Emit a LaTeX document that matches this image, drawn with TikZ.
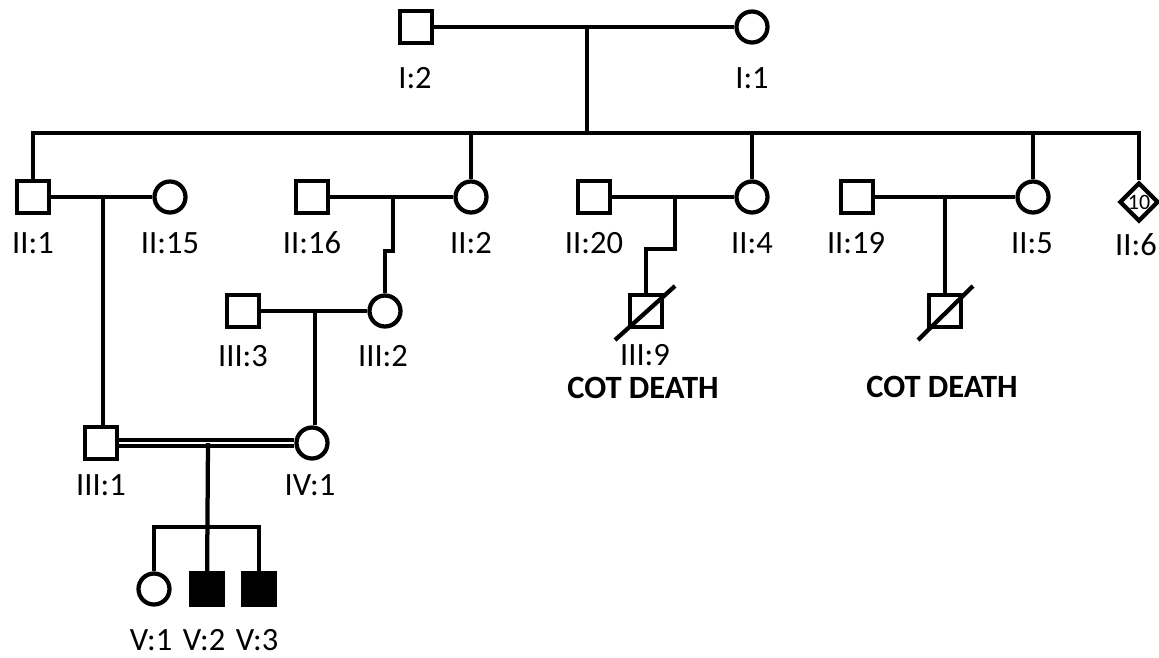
\documentclass[tikz,border=0pt]{standalone}
\usepackage{fontspec}
\setmainfont{Carlito}
\usetikzlibrary{shapes.geometric,calc}

\tikzset{
  male/.style={draw, rectangle, minimum size=0.64cm, inner sep=0pt},
  female/.style={draw, circle, minimum size=0.62cm, inner sep=0pt},
  sexunk/.style={draw, diamond, minimum size=0.78cm, inner sep=0pt},
  count/.style={font=\fontsize{12.5}{12.5}\selectfont, inner sep=0pt},
  affected/.style={fill=black},
  lab/.style={font=\fontsize{18.5}{21}\selectfont, inner sep=0pt},
  note/.style={font=\fontsize{18.5}{21}\selectfont\bfseries, inner sep=0pt},
  consang/.style={double, line width=0.07cm, double distance=0.05cm},
}

\begin{document}
\begin{tikzpicture}[x=0.02cm, y=-0.02cm, line width=0.085cm]
  \useasboundingbox (0,0) rectangle (1159,657);

  % generation I
  \node[male] (I2) at (416,27) {};
  \node[female] (I1) at (752,27) {};
  \node[lab] (lI2) at (415,78) {I:2};
  \node[lab] (lI1) at (752,78) {I:1};

  % generation II
  \node[male] (II1) at (33,197) {};
  \node[female] (II15) at (170,197) {};
  \node[male] (II16) at (312,197) {};
  \node[female] (II2) at (471,197) {};
  \node[male] (II20) at (594,197) {};
  \node[female] (II4) at (752,197) {};
  \node[male] (II19) at (857,197) {};
  \node[female] (II5) at (1033,197) {};
  \node[sexunk] (II6) at (1139,202) {};
  \node[count] (nII6) at (1139,202) {10};
  \node[lab] (lII1) at (33,243) {II:1};
  \node[lab] (lII15) at (170,243) {II:15};
  \node[lab] (lII16) at (312,243) {II:16};
  \node[lab] (lII2) at (471,243) {II:2};
  \node[lab] (lII20) at (594,243) {II:20};
  \node[lab] (lII4) at (752,243) {II:4};
  \node[lab] (lII19) at (856,243) {II:19};
  \node[lab] (lII5) at (1032,243) {II:5};
  \node[lab] (lII6) at (1136,245) {II:6};

  % generation III
  \node[male] (III3) at (243,311) {};
  \node[female] (III2) at (385,311) {};
  \node[male] (III9) at (646,311) {};
  \node[male] (cot2) at (945,311) {};
  \node[lab] (lIII3) at (243,356) {III:3};
  \node[lab] (lIII2) at (383,356) {III:2};
  \node[lab] (lIII9) at (645,355) {III:9};
  \node[note] (cotA) at (643,388) {COT DEATH};
  \node[note] (cotB) at (942,387) {COT DEATH};

  % generation IV
  \node[male] (III1) at (101,443) {};
  \node[female] (IV1) at (312,443) {};
  \node[lab] (lIII1) at (101,485) {III:1};
  \node[lab] (lIV1) at (310,485) {IV:1};

  % generation V
  \node[female] (V1) at (154,589) {};
  \node[male, affected] (V2) at (207,589) {};
  \node[male, affected] (V3) at (259,589) {};
  \node[lab] (lV1) at (151,640) {V:1};
  \node[lab] (lV2) at (204,640) {V:2};
  \node[lab] (lV3) at (257,640) {V:3};

  % junctions
  \coordinate (m1) at (587,27);
  \coordinate (sibL) at (33,133);
  \coordinate (sibR) at (1139,133);
  \coordinate (m2) at (103,197);
  \coordinate (m3) at (393,197);
  \coordinate (m4) at (315,311);
  \coordinate (m6) at (675,197);
  \coordinate (m7) at (945,197);
  \coordinate (m5) at (208,443);
  \coordinate (sib5) at (208,527);

  % lines
  \draw (I2) -- (I1);
  \draw (m1) -- (m1 |- sibL);
  \draw (II1) |- (sibR) -- (II6);
  \draw (II2 |- sibL) -- (II2);
  \draw (II4 |- sibL) -- (II4);
  \draw (II5 |- sibL) -- (II5);

  \draw (II1) -- (II15);
  \draw (m2) -- (m2 |- III1.north);
  \draw (II16) -- (II2);
  \draw (m3) -- ++(0,54) -- ++(-6,0) -| (III2);
  \draw (III3) -- (III2);
  \draw (m4) -- (m4 |- IV1.north);
  \draw (II20) -- (II4);
  \draw (m6) -- ++(0,52) -| (III9);
  \draw (II19) -- (II5);
  \draw (m7) -- (cot2);

  \draw[consang] (III1) -- (IV1);
  \draw (m5) -- (V2);
  \draw (V1) |- (sib5) -| (V3);

  % deceased
  \draw ($(III9)+(-31,29)$) -- ($(III9)+(29,-25)$);
  \draw ($(cot2)+(-27,29)$) -- ($(cot2)+(28,-25)$);
\end{tikzpicture}
\end{document}
